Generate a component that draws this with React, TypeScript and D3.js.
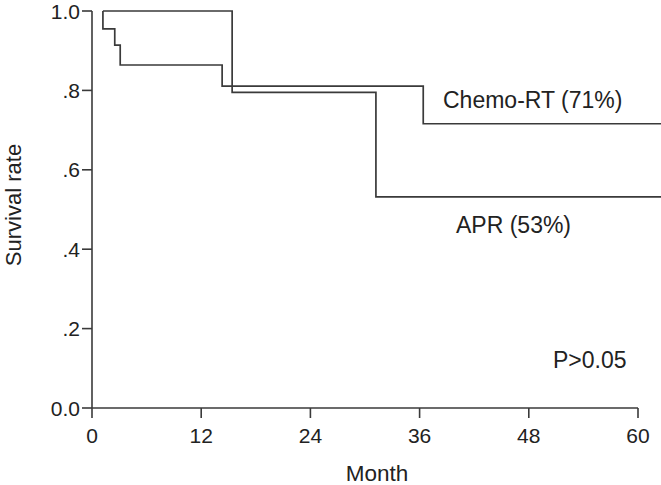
import React from 'react';
import * as d3 from 'd3';

// Kaplan-Meier step data (months, cumulative survival)
const chemoMonths = [1.2, 1.2, 2.5, 3.1, 14.3, 36.4, 62.6];
const chemoSurvival = [1.0, 0.955, 0.914, 0.864, 0.811, 0.716, 0.716];
const aprMonths = [1.2, 15.4, 31.2, 62.6];
const aprSurvival = [1.0, 0.795, 0.532, 0.532];

const xTicks = [0, 12, 24, 36, 48, 60];
const yTicks = [0, 0.2, 0.4, 0.6, 0.8, 1.0];
const yTickLabels = ['0.0', '.2', '.4', '.6', '.8', '1.0'];

const W = 661;
const H = 485;
const FONT = 'Liberation Sans, Arial, Helvetica, sans-serif';
const INK = '#3a3a3a';

const App: React.FC = () => {
  const x = d3.scaleLinear().domain([0, 60]).range([92, 638]);
  const y = d3.scaleLinear().domain([0, 1]).range([408, 11]);

  const line = d3
    .line<[number, number]>()
    .x((d) => x(d[0]))
    .y((d) => y(d[1]))
    .curve(d3.curveStepAfter);

  const chemoPts = chemoMonths.map((m, i) => [m, chemoSurvival[i]] as [number, number]);
  const aprPts = aprMonths.map((m, i) => [m, aprSurvival[i]] as [number, number]);

  const [x0, x1] = x.range();
  const [y0, y1] = y.range();

  return (
    <svg
      width={W}
      height={H}
      style={{ position: 'absolute', left: 0, top: 0, background: '#fff' }}
      fontFamily={FONT}
    >
      {/* axes */}
      <g stroke={INK} strokeWidth={1.6} fill="none">
        <line x1={x0} x2={x0} y1={y1} y2={y0} />
        <line x1={x0} x2={x1} y1={y0} y2={y0} />
        {yTicks.map((t) => (
          <line key={'yt' + t} x1={x0 - 10} x2={x0} y1={y(t)} y2={y(t)} />
        ))}
        {xTicks.map((t) => (
          <line key={'xt' + t} x1={x(t)} x2={x(t)} y1={y0} y2={y0 + 10} />
        ))}
      </g>
      <g fontSize={21} fill="#222">
        {yTicks.map((t, i) => (
          <text key={'yl' + t} x={x0 - 12} y={y(t)} dy="0.36em" textAnchor="end">
            {yTickLabels[i]}
          </text>
        ))}
        {xTicks.map((t) => (
          <text key={'xl' + t} x={x(t)} y={443} textAnchor="middle">
            {t}
          </text>
        ))}
      </g>
      <text x={377} y={481} fontSize={22.5} textAnchor="middle" fill="#222">
        Month
      </text>
      <text
        transform={`translate(21, 205) rotate(-90)`}
        fontSize={22}
        textAnchor="middle"
        fill="#222"
      >
        Survival rate
      </text>

      {/* survival curves */}
      <path d={line(chemoPts) ?? ''} fill="none" stroke={INK} strokeWidth={1.7} />
      <path d={line(aprPts) ?? ''} fill="none" stroke={INK} strokeWidth={1.7} />

      {/* annotations */}
      <g fontSize={23} fill="#222">
        <text x={443} y={108}>Chemo-RT (71%)</text>
        <text x={456} y={233}>APR (53%)</text>
        <text x={553} y={368}>P&gt;0.05</text>
      </g>
    </svg>
  );
};

export default App;
